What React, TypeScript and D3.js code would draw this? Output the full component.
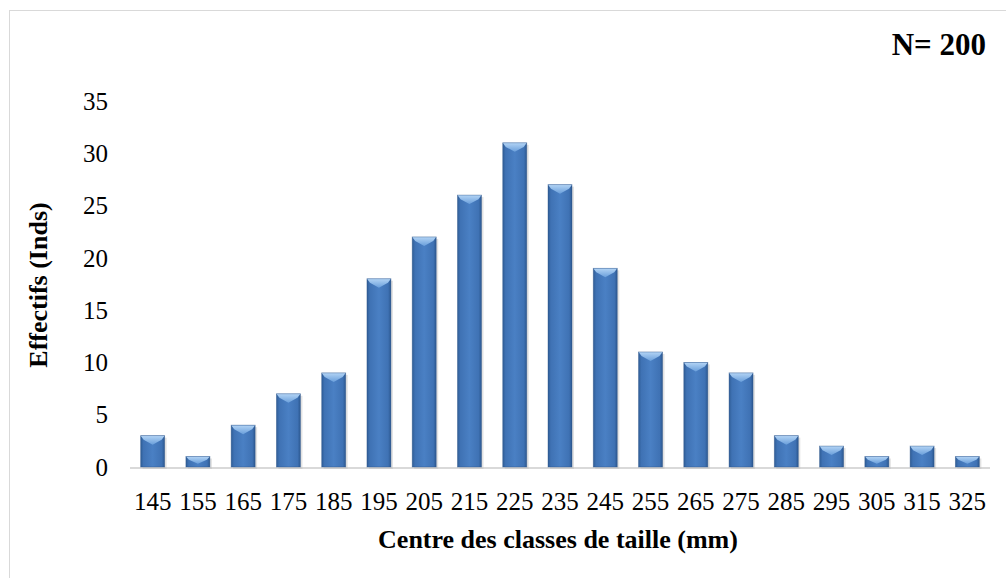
import { useRef, useEffect } from 'react';
import * as d3 from 'd3';

const classes = ['145', '155', '165', '175', '185', '195', '205', '215', '225', '235', '245', '255', '265', '275', '285', '295', '305', '315', '325'];
const effectifs = [3, 1, 4, 7, 9, 18, 22, 26, 31, 27, 19, 11, 10, 9, 3, 2, 1, 2, 1];
const yTicks = [0, 5, 10, 15, 20, 25, 30, 35];

const W = 1006;
const H = 578;
const margin = { top: 101, right: 16, bottom: 111, left: 130 };
const font = '"Liberation Serif", "Times New Roman", serif';

export default function App() {
  const svgRef = useRef<SVGSVGElement>(null);

  useEffect(() => {
    if (!svgRef.current) return;
    const svg = d3.select(svgRef.current);
    svg.selectAll('*').remove();

    const x = d3.scaleBand<string>()
      .domain(classes)
      .range([margin.left, W - margin.right])
      .paddingInner(0.47)
      .paddingOuter(0.235);

    const y = d3.scaleLinear()
      .domain([0, 35])
      .range([H - margin.bottom, margin.top]);

    const defs = svg.append('defs');
    const grad = defs.append('linearGradient')
      .attr('id', 'barFill')
      .attr('x1', '0%').attr('x2', '100%').attr('y1', '0%').attr('y2', '0%');
    grad.append('stop').attr('offset', '0%').attr('stop-color', '#2f5d96');
    grad.append('stop').attr('offset', '12%').attr('stop-color', '#3f72b4');
    grad.append('stop').attr('offset', '50%').attr('stop-color', '#4a80c4');
    grad.append('stop').attr('offset', '88%').attr('stop-color', '#3f72b4');
    grad.append('stop').attr('offset', '100%').attr('stop-color', '#2c5890');

    const topGrad = defs.append('linearGradient')
      .attr('id', 'topFill')
      .attr('x1', '0%').attr('x2', '0%').attr('y1', '0%').attr('y2', '100%');
    topGrad.append('stop').attr('offset', '0%').attr('stop-color', '#b3d4f5');
    topGrad.append('stop').attr('offset', '100%').attr('stop-color', '#6a9fdb');

    // chart border
    svg.append('rect')
      .attr('x', 9.5).attr('y', 10.5)
      .attr('width', W + 10).attr('height', H + 10)
      .attr('fill', 'none')
      .attr('stroke', '#d9d9d9')
      .attr('stroke-width', 1);

    // baseline
    svg.append('line')
      .attr('x1', margin.left).attr('x2', W - margin.right)
      .attr('y1', y(0) + 1).attr('y2', y(0) + 1)
      .attr('stroke', '#d9d9d9')
      .attr('stroke-width', 2);

    const bars = svg.append('g')
      .selectAll('g')
      .data(effectifs)
      .join('g');

    // soft shadow
    bars.append('rect')
      .attr('x', (_, i) => x(classes[i])! + 2)
      .attr('y', d => y(d) + 2)
      .attr('width', x.bandwidth())
      .attr('height', d => y(0) - y(d))
      .attr('fill', '#bfbfbf')
      .attr('opacity', 0.45);

    bars.append('rect')
      .attr('x', (_, i) => x(classes[i])!)
      .attr('y', d => y(d))
      .attr('width', x.bandwidth())
      .attr('height', d => y(0) - y(d))
      .attr('fill', 'url(#barFill)');

    // bevelled top
    bars.append('path')
      .attr('d', (d, i) => {
        const x0 = x(classes[i])!;
        const x1 = x0 + x.bandwidth();
        const xc = (x0 + x1) / 2;
        const y0 = y(d);
        const h = Math.min(9, (y(0) - y(d)) * 0.7);
        return `M${x0},${y0}L${x1},${y0}L${x1 - 3},${y0 + h * 0.45}L${xc},${y0 + h}L${x0 + 3},${y0 + h * 0.45}Z`;
      })
      .attr('fill', 'url(#topFill)');

    bars.append('rect')
      .attr('x', (_, i) => x(classes[i])!)
      .attr('y', d => y(d))
      .attr('width', x.bandwidth())
      .attr('height', d => y(0) - y(d))
      .attr('fill', 'none')
      .attr('stroke', '#2a5288')
      .attr('stroke-opacity', 0.5)
      .attr('stroke-width', 0.8);

    // y tick labels
    svg.append('g')
      .selectAll('text')
      .data(yTicks)
      .join('text')
      .attr('x', 108)
      .attr('y', d => y(d))
      .attr('dy', '0.35em')
      .attr('text-anchor', 'end')
      .attr('font-family', font)
      .attr('font-size', 25)
      .attr('fill', '#000')
      .text(d => d);

    // x tick labels
    svg.append('g')
      .selectAll('text')
      .data(classes)
      .join('text')
      .attr('x', d => x(d)! + x.bandwidth() / 2)
      .attr('y', 510)
      .attr('text-anchor', 'middle')
      .attr('font-family', font)
      .attr('font-size', 25)
      .attr('fill', '#000')
      .text(d => d);

    svg.append('text')
      .attr('x', 558)
      .attr('y', 548)
      .attr('text-anchor', 'middle')
      .attr('font-family', font)
      .attr('font-size', 26)
      .attr('font-weight', 'bold')
      .text('Centre des classes de taille (mm)');

    svg.append('text')
      .attr('transform', `translate(47,${(y(0) + y(35)) / 2 + 1}) rotate(-90)`)
      .attr('text-anchor', 'middle')
      .attr('font-family', font)
      .attr('font-size', 26)
      .attr('font-weight', 'bold')
      .text('Effectifs (Inds)');

    svg.append('text')
      .attr('x', 986)
      .attr('y', 55)
      .attr('text-anchor', 'end')
      .attr('font-family', font)
      .attr('font-size', 31)
      .attr('font-weight', 'bold')
      .text('N= 200');
  }, []);

  return (
    <svg
      ref={svgRef}
      width={W}
      height={H}
      style={{ position: 'absolute', left: 0, top: 0, background: '#fff' }}
    />
  );
}
